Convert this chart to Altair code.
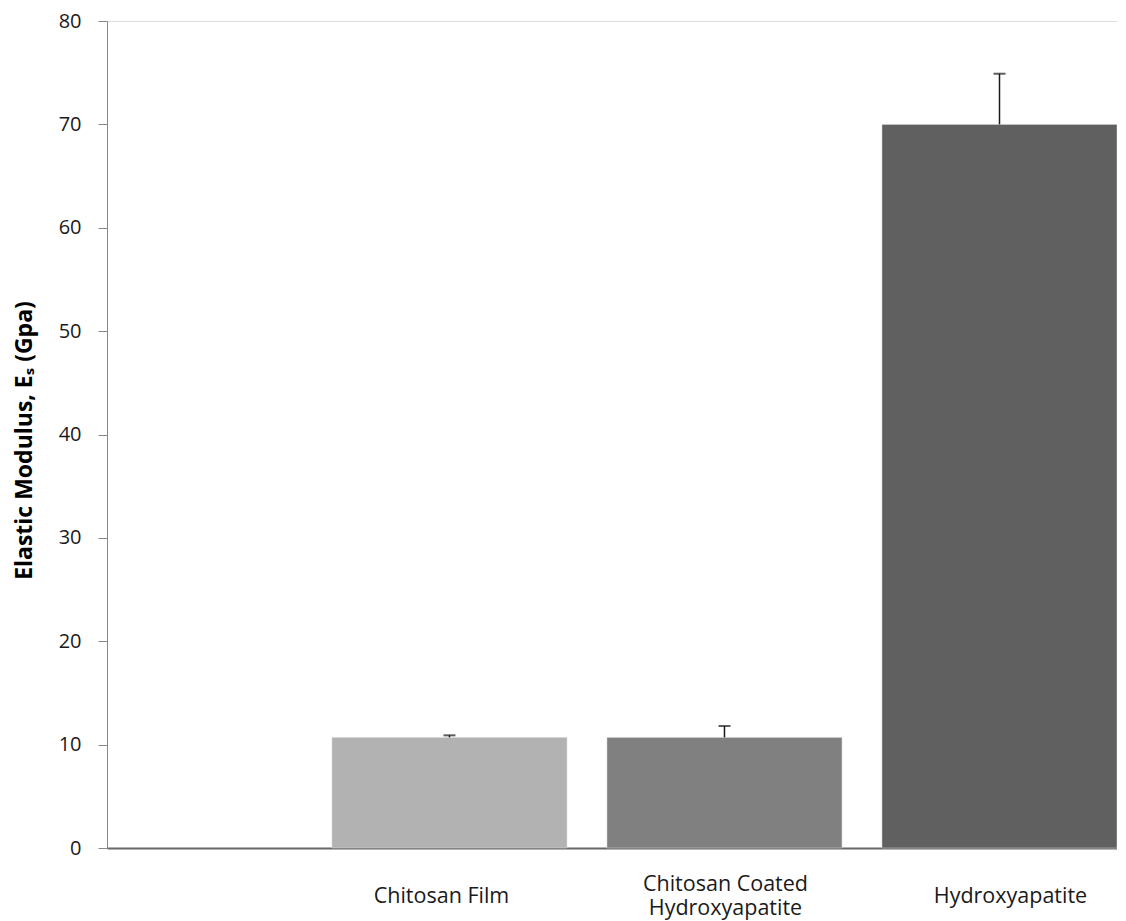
import altair as alt
import pandas as pd

categories = ["Chitosan Film", "Chitosan Coated Hydroxyapatite", "Hydroxyapatite"]
values = [10.7, 10.7, 70.0]
upper = [10.9, 11.8, 74.9]
colors = ["#b2b2b2", "#808080", "#606060"]

# label lines shown under each bar (category, text, line position)
label_cat = ["Chitosan Film", "Chitosan Coated Hydroxyapatite", "Chitosan Coated Hydroxyapatite", "Hydroxyapatite"]
label_text = ["Chitosan Film", "Chitosan Coated", "Hydroxyapatite", "Hydroxyapatite"]

df = pd.DataFrame({"cat": categories, "value": values, "upper": upper, "color": colors})
lab = pd.DataFrame({"cat": label_cat, "text": label_text, "idx": [0, 1, 2, 3]})

FONT = "Open Sans"
LABEL_Y = 876

x_scale = alt.Scale(paddingInner=0.1455, paddingOuter=0.409, align=1)

x = alt.X(
    "cat:N",
    sort=categories,
    scale=x_scale,
    axis=alt.Axis(
        title=None,
        labels=False,
        ticks=False,
        tickSize=0,
        domainColor="#686868",
        domainWidth=2,
    ),
)

y_axis = alt.Axis(
    title="Elastic Modulus, Eₛ (Gpa)",
    values=[0, 10, 20, 30, 40, 50, 60, 70, 80],
    grid=False,
    tickSize=9,
    tickColor="#888888",
    domainColor="#888888",
    labelFont=FONT,
    labelFontSize=20,
    labelColor="#1a1a1a",
    labelPadding=17,
    titleFont=FONT,
    titleFontSize=23,
    titleFontWeight="bold",
    titleColor="#000000",
    titleX=-83,
    titleY=419,
    titleBaseline="middle",
    titleAlign="center",
    titleAngle=270,
)

bars = alt.Chart(df).mark_bar(stroke="#d8d8d8", strokeWidth=0.5).encode(
    x=x,
    y=alt.Y("value:Q", scale=alt.Scale(domain=[0, 80], nice=False), axis=y_axis),
    color=alt.Color("color:N", scale=None),
)

err = alt.Chart(df).mark_rule(color="#1a1a1a", strokeWidth=1.5).encode(
    x=alt.X("cat:N", sort=categories),
    y="value:Q",
    y2="upper:Q",
)

caps = alt.Chart(df).mark_tick(color="#1a1a1a", thickness=2, size=12).encode(
    x=alt.X("cat:N", sort=categories),
    y="upper:Q",
)

label_layers = []
for i, (dx, dy) in enumerate([(-8, 0), (1, -12), (1, 12), (11, 0)]):
    label_layers.append(
        alt.Chart(lab)
        .transform_filter(alt.datum.idx == i)
        .mark_text(font=FONT, fontSize=21.5, color="#1a1a1a", baseline="middle", align="center", dx=dx, dy=dy)
        .encode(
            x=alt.X("cat:N", sort=categories),
            y=alt.value(LABEL_Y),
            text="text:N",
        )
    )

chart = (
    alt.layer(bars, err, caps, *label_layers)
    .properties(
        width=1010,
        height=827,
        autosize=alt.AutoSizeParams(type="none"),
        padding={"left": 99, "top": 13, "right": 0, "bottom": 76},
    )
    .configure_view(stroke=None)
    .configure(background="white")
)

chart.save("out.html", embed_options={"renderer": "svg", "actions": False})
